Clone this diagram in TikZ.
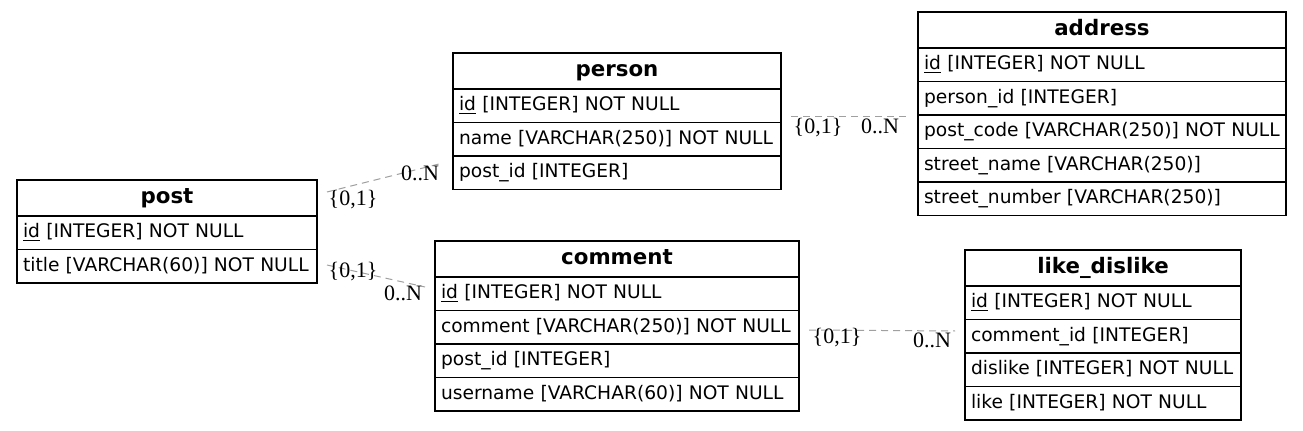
\documentclass[tikz,border=0pt]{standalone}
\usepackage{fontspec}
\setmainfont{DejaVu Sans}
\newfontfamily\cardfont{Liberation Serif}
\usetikzlibrary{positioning,fit,calc}
\definecolor{edgegrey}{HTML}{A0A0A0}
\tikzset{
  tabhead/.style={draw, line width=1pt, outer sep=0pt, inner xsep=4.5pt, inner ysep=0pt,
                  align=center, font=\fontsize{16}{18}\selectfont\bfseries,
                  text height=17.5pt, text depth=9.5pt},
  tabrow/.style={draw, line width=1pt, outer sep=0pt, inner xsep=4.5pt, inner ysep=0pt,
                 align=left, font=\fontsize{14}{16}\selectfont,
                 text height=16.4pt, text depth=8.7pt},
  rel/.style={edgegrey, line width=0.75pt, dash pattern=on 5.25pt off 3.75pt},
  card/.style={font=\cardfont\fontsize{16.5}{18}\selectfont, inner sep=0pt},
}
% table: name, top left (px), width (px), title, columns
\newcommand{\erdtable}[5]{%
  \pgfmathsetmacro{\tabtw}{#3*0.75-9}
  \node[tabhead, text width=\tabtw pt, anchor=north west] (#1-0) at (#2) {#4};
  \foreach \c [count=\i, remember=\i as \j (initially 0)] in {#5}
    { \node[tabrow, text width=\tabtw pt, below=0pt of #1-\j] (#1-\i) {\c};
      \coordinate (#1-end) at (#1-\i.south east); }
  \node[fit=(#1-0) (#1-end), inner sep=0pt, outer sep=0pt] (#1) {};
}

\begin{document}
\begin{tikzpicture}[x=0.75pt, y=-0.75pt]
  \useasboundingbox (0,0) rectangle (1303,431);

  \erdtable{post}{17,180}{300}{post}
    {\underline{id} [INTEGER] NOT NULL, title [VARCHAR(60)] NOT NULL}
  \erdtable{person}{453,53}{328}{person}
    {\underline{id} [INTEGER] NOT NULL, name [VARCHAR(250)] NOT NULL, post\_id [INTEGER]}
  \erdtable{address}{918,12}{368}{address}
    {\underline{id} [INTEGER] NOT NULL, person\_id [INTEGER], post\_code [VARCHAR(250)] NOT NULL,
     street\_name [VARCHAR(250)], street\_number [VARCHAR(250)]}
  \erdtable{comment}{435,241}{364}{comment}
    {\underline{id} [INTEGER] NOT NULL, comment [VARCHAR(250)] NOT NULL, post\_id [INTEGER],
     username [VARCHAR(60)] NOT NULL}
  \erdtable{like}{965,250}{276}{like\_dislike}
    {\underline{id} [INTEGER] NOT NULL, comment\_id [INTEGER], dislike [INTEGER] NOT NULL,
     like [INTEGER] NOT NULL}

  % relation ends
  \coordinate (post-a) at ($(post.north east)+(10,12)$);
  \coordinate (person-a) at ($(person.north west)+(-10,110)$);
  \coordinate (post-b) at ($(post.north east)+(10,85)$);
  \coordinate (comment-a) at ($(comment.north west)+(-10,46)$);
  \coordinate (person-b) at ($(person.north east)+(10,64)$);
  \coordinate (address-a) at ($(address.north west)+(-10,105)$);
  \coordinate (comment-b) at ($(comment.north east)+(10,89)$);
  \coordinate (like-a) at ($(like.north west)+(-10,81)$);

  \draw[rel] (post-a) -- (person-a);
  \draw[rel] (post-b) -- (comment-a);
  \draw[rel] (person-b) -- (address-a);
  \draw[rel] (comment-b) -- (like-a);

  \node[card] (c1) at (353,200) {\{0,1\}};
  \node[card] (n1) at (420,173) {0..N};
  \node[card] (c2) at (353,272) {\{0,1\}};
  \node[card] (n2) at (403,293) {0..N};
  \node[card] (c3) at (818,128) {\{0,1\}};
  \node[card] (n3) at (880,126) {0..N};
  \node[card] (c4) at (837,338) {\{0,1\}};
  \node[card] (n4) at (932,340) {0..N};
\end{tikzpicture}
\end{document}
